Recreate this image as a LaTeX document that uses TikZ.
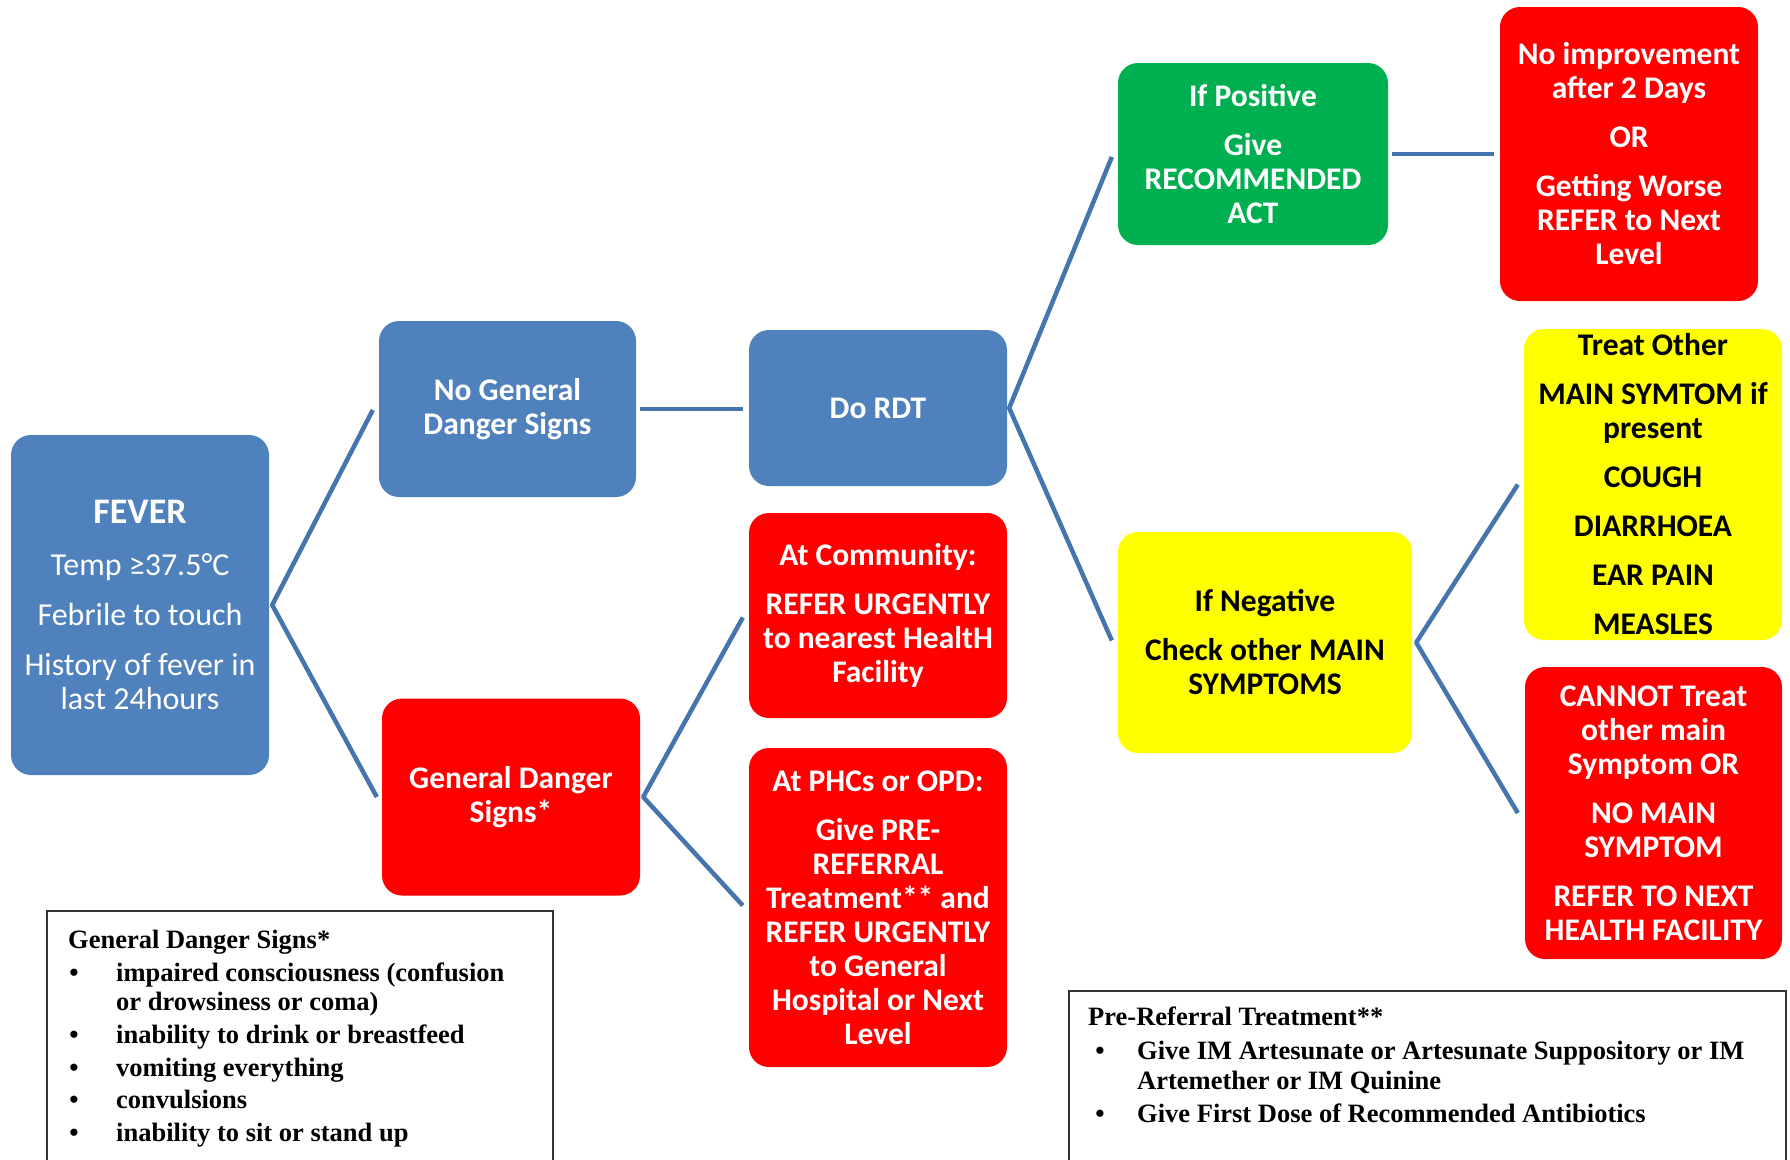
\documentclass[tikz,border=0pt]{standalone}
\usepackage{fontspec}
\setmainfont{Carlito}
\newfontfamily\tnr{Liberation Serif}
\usetikzlibrary{calc}
\definecolor{cblue}{HTML}{4F81BD}
\definecolor{cred}{HTML}{FF0000}
\definecolor{cgreen}{HTML}{00B050}
\definecolor{cyel}{HTML}{FFFF00}
\definecolor{cline}{HTML}{4674AC}
\begin{document}
\begin{tikzpicture}[x=1pt,y=-1pt,
  box/.style={rectangle,rounded corners=20pt,inner sep=0pt,align=center,
    font=\fontsize{31.5}{34}\selectfont\bfseries},
  bbox/.style={box,fill=cblue,text=white},
  rbox/.style={box,fill=cred,text=white},
  gbox/.style={box,fill=cgreen,text=white},
  ybox/.style={box,fill=cyel,text=black},
  link/.style={draw=cline,line width=4.5pt,line join=round},
  note/.style={draw=black!80,line width=1.4pt},
  ntxt/.style={anchor=base west,inner sep=0pt,font=\tnr\bfseries\fontsize{26.5}{30}\selectfont},
  bul/.style={anchor=base,inner sep=0pt,font=\tnr\bfseries\fontsize{26.5}{30}\selectfont}]
\fill[white] (0,0) rectangle (1790,1159);
\useasboundingbox (0,0) rectangle (1790,1159);

% boxes
\node[bbox,minimum width=258pt,minimum height=340pt,font=\fontsize{32}{34}\selectfont] (fever) at (140,605)
  {{\fontsize{36}{36}\selectfont\bfseries FEVER}\\[18pt]Temp ≥37.5°C\\[16pt]Febrile to touch\\[16pt]History of fever in\\last 24hours};
\node[bbox,minimum width=257pt,minimum height=176pt] (nogen) at (507.5,409) {No General\\Danger Signs};
\node[bbox,minimum width=258pt,minimum height=156pt] (rdt) at (878,408) {Do RDT};
\node[rbox,minimum width=258pt,minimum height=197pt] (gen) at (511,797) {General Danger\\Signs*};
\node[rbox,minimum width=258pt,minimum height=205pt] (comm) at (878,615.5)
  {At Community:\\[15pt]REFER URGENTLY\\to nearest HealtH\\Facility};
\node[rbox,minimum width=258pt,minimum height=319pt] (phc) at (878,907.5)
  {At PHCs or OPD:\\[15pt]Give PRE-\\REFERRAL\\Treatment** and\\REFER URGENTLY\\to General\\Hospital or Next\\Level};
\node[gbox,minimum width=270pt,minimum height=182pt] (pos) at (1253,154)
  {If Positive\\[15pt]Give\\RECOMMENDED\\ACT};
\node[rbox,minimum width=258pt,minimum height=294pt] (noimp) at (1629,154)
  {No improvement\\after 2 Days\\[15pt]OR\\[15pt]Getting Worse\\REFER to Next\\Level};
\node[ybox,minimum width=294pt,minimum height=221pt] (neg) at (1265,642.5)
  {If Negative\\[15pt]Check other MAIN\\SYMPTOMS};
\node[ybox,minimum width=258pt,minimum height=311pt] (treat) at (1653,484.5)
  {Treat Other\\[15pt]MAIN SYMTOM if\\present\\[15pt]COUGH\\[15pt]DIARRHOEA\\[15pt]EAR PAIN\\[15pt]MEASLES};
\node[rbox,minimum width=257pt,minimum height=292pt] (cannot) at (1653.5,813)
  {CANNOT Treat\\other main\\Symptom OR\\[15pt]NO MAIN\\SYMPTOM\\[15pt]REFER TO NEXT\\HEALTH FACILITY};

% connectors
\draw[link] ($(nogen.west)+(-6,1)$) -- ($(fever.east)+(3,0)$) -- ($(gen.west)+(-5,0)$);
\draw[link] ($(nogen.east)+(4,0)$) -- ($(rdt.west)+(-6,1)$);
\draw[link] ($(pos.west)+(-6,3)$) -- ($(rdt.east)+(2,0)$) -- ($(neg.west)+(-6,-2)$);
\draw[link] ($(pos.east)+(4,0)$) -- ($(noimp.west)+(-6,0)$);
\draw[link] ($(comm.west)+(-6,2)$) -- ($(gen.east)+(3,0)$) -- ($(phc.west)+(-6,-2)$);
\draw[link] ($(treat.west)+(-6,0)$) -- ($(neg.east)+(4,0)$) -- ($(cannot.west)+(-7,0)$);

% note boxes
\draw[note] (47,1175) |- (553,911) -- (553,1175);
\node[ntxt] (g0) at (68,948) {General Danger Signs*};
\node[bul] (gb1) at (74,981) {•};
\node[ntxt] (g1) at (116,981) {impaired consciousness (confusion};
\node[ntxt] (g1b) at (116,1010) {or drowsiness or coma)};
\node[bul] (gb2) at (74,1043) {•};
\node[ntxt] (g2) at (116,1043) {inability to drink or breastfeed};
\node[bul] (gb3) at (74,1076) {•};
\node[ntxt] (g3) at (116,1076) {vomiting everything};
\node[bul] (gb4) at (74,1108) {•};
\node[ntxt] (g4) at (116,1108) {convulsions};
\node[bul] (gb5) at (74,1141) {•};
\node[ntxt] (g5) at (116,1141) {inability to sit or stand up};

\draw[note] (1069,1175) |- (1786,991) -- (1786,1175);
\node[ntxt] (p0) at (1088,1025) {Pre-Referral Treatment**};
\node[bul] (pb1) at (1100,1059) {•};
\node[ntxt] (p1) at (1137,1059) {Give IM Artesunate or Artesunate Suppository or IM};
\node[ntxt] (p1b) at (1137,1089) {Artemether or IM Quinine};
\node[bul] (pb2) at (1100,1122) {•};
\node[ntxt] (p2) at (1137,1122) {Give First Dose of Recommended Antibiotics};
\end{tikzpicture}
\end{document}
